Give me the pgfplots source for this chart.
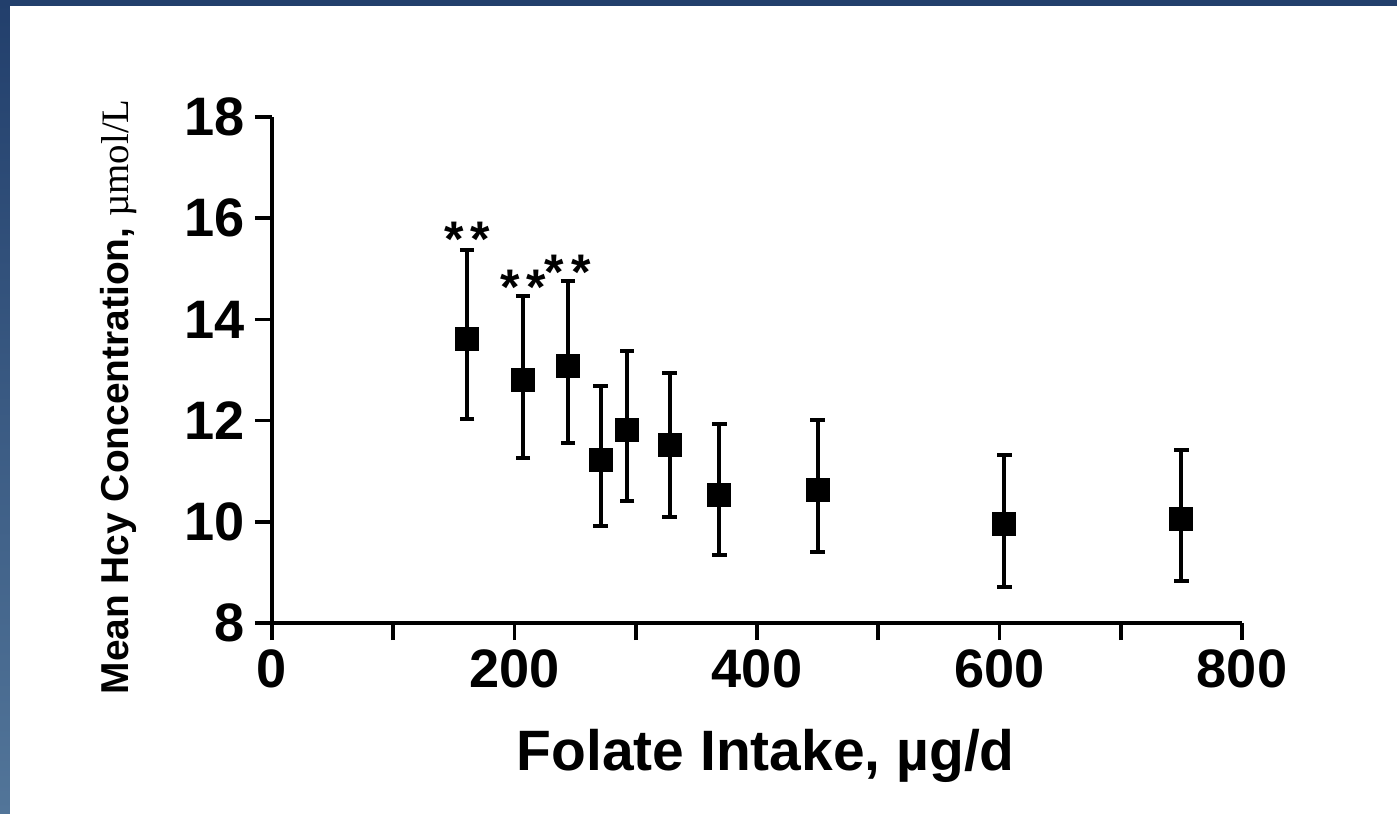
\documentclass[border=0pt]{standalone}
\usepackage{fontspec}
\setmainfont{Liberation Sans}
\newfontfamily\seriffont{Liberation Serif}
\usepackage{pgfplots}
\usepackage{pgfplotstable}
\pgfplotsset{compat=1.18}
\definecolor{frameTop}{HTML}{223F6C}
\definecolor{frameBot}{HTML}{527599}

\pgfplotstableread{
x    y     ep    em
161  13.61 1.76  1.58
207  12.80 1.66  1.54
244  13.08 1.68  1.52
271  11.22 1.46  1.30
293  11.81 1.57  1.40
328  11.52 1.42  1.43
369  10.53 1.40  1.19
450  10.63 1.38  1.23
604  9.96  1.36  1.25
750  10.06 1.36  1.23
}\hcydata

\begin{document}
\begin{tikzpicture}
\path[use as bounding box] (-97.92pt,-68.4pt) rectangle (405pt,224.28pt);
\fill[white] (-97.92pt,-68.4pt) rectangle (405pt,224.28pt);
\begin{axis}[
  at={(0,0)}, anchor=south west,
  scale only axis, width=349.2pt, height=182.16pt,
  xmin=0, xmax=800, ymin=8, ymax=18,
  clip=false,
  axis lines*=left,
  axis line style={line width=1.4pt, black},
  xtick={0,200,...,800}, minor xtick={100,300,500,700},
  ytick={8,10,...,18},
  tick align=outside,
  major tick length=6.2pt, minor tick length=6.2pt,
  tick style={line width=1.3pt, black},
  minor tick style={line width=1.3pt, black},
  /pgf/number format/assume math mode=true,
  ticklabel style={font=\fontsize{19.5}{20}\selectfont\bfseries},
  xlabel={Folate Intake, µg/d},
  xlabel style={font=\fontsize{20.5}{21}\selectfont\bfseries, at={(axis description cs:0.509,-0.2905)}, anchor=base},
  ylabel={{\bfseries Mean Hcy Concentration, }{\seriffont µmol/L}},
  ylabel style={font=\fontsize{14}{14}\selectfont, at={(axis description cs:-0.148,0.447)}, anchor=base, rotate=0},
]
\addplot[only marks, mark=square*, mark size=4.1pt, black,
  error bars/.cd, y dir=both, y explicit,
  error bar style={line width=1.4pt, black},
  error mark options={rotate=90, mark size=2.6pt, line width=1.4pt, black}]
  table[x=x, y=y, y error plus=ep, y error minus=em] {\hcydata};
\addplot[draw=none, mark=none,
  nodes near coords={\fontsize{18}{18}\selectfont\bfseries *\hspace{2.5pt}*},
  nodes near coords align={center},
  every node near coord/.append style={anchor=center, yshift=-2pt, inner sep=0pt}]
  coordinates {(161,15.69) (207,14.74) (244,15.04)};
\end{axis}
\shade[top color=frameTop, bottom color=frameBot] (-97.92pt,-68.4pt) rectangle (-94.32pt,224.28pt);
\fill[frameTop] (-97.92pt,222.12pt) rectangle (405pt,224.28pt);
\end{tikzpicture}
\end{document}
